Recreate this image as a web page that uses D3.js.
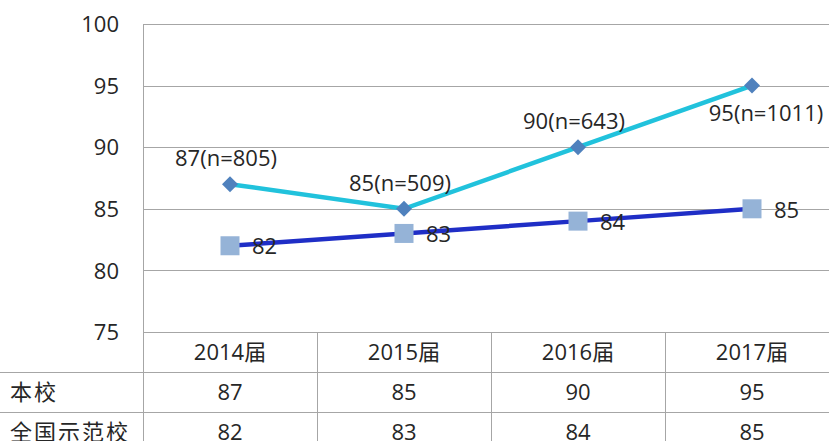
<!DOCTYPE html>
<html><head><meta charset="utf-8">
<script src="https://cdn.jsdelivr.net/npm/d3@7"></script>
<style>
html,body{margin:0;padding:0;background:#fff;}
svg{display:block;}
text{font-family:"Open Sans","Noto Sans CJK SC",sans-serif;fill:#262626;}
</style></head>
<body><svg id="c" width="829" height="441"></svg>
<script>
const categories = ["2014届","2015届","2016届","2017届"];
const seriesNames = ["本校","全国示范校"];
const schoolValues = [87,85,90,95];
const schoolN = [805,509,643,1011];
const nationalValues = [82,83,84,85];
const yTicks = [75,80,85,90,95,100];

(function(){
const W = 829, H = 441;
const pLeft = 143, pTop = 24, pBottom = 332, colW = 174;
const rowH = 40;
const svg = d3.select("#c");
const grid = "#A6A6A6";
const fs = 22;

const x = d3.scaleBand().domain(categories).range([pLeft, pLeft + colW*categories.length]).padding(0);
const y = d3.scaleLinear().domain([75,100]).range([pBottom, pTop]);
const cx = d => x(d) + x.bandwidth()/2;

svg.append("g").selectAll("line").data(yTicks).join("line")
  .attr("x1", pLeft).attr("x2", W).attr("y1", d=>Math.round(y(d))+0.5).attr("y2", d=>Math.round(y(d))+0.5)
  .attr("stroke", grid).attr("stroke-width",1);

const yAxis = d3.axisLeft(y).tickValues(yTicks).tickSize(0).tickPadding(0);
const ga = svg.append("g").attr("transform",`translate(${pLeft-24},0)`).call(yAxis);
ga.select(".domain").remove();
ga.selectAll("text").attr("font-size",fs).attr("font-family",'"Open Sans",sans-serif').attr("fill","#262626").attr("dy","0.35em");

const tb = svg.append("g").attr("stroke",grid).attr("stroke-width",1);
tb.append("line").attr("x1",pLeft+0.5).attr("x2",pLeft+0.5).attr("y1",pTop).attr("y2",H);
[1,2].forEach(i=>tb.append("line").attr("x1",0).attr("x2",W).attr("y1",pBottom+rowH*i+0.5).attr("y2",pBottom+rowH*i+0.5));
categories.slice(1).forEach(c=>tb.append("line").attr("x1",x(c)+0.5).attr("x2",x(c)+0.5).attr("y1",pBottom).attr("y2",H));

svg.append("g").selectAll("text").data(categories).join("text")
  .attr("x", d=>cx(d)).attr("y", pBottom+rowH/2).attr("dy","0.35em")
  .attr("text-anchor","middle").attr("font-size",fs).text(d=>d);

const rows = [schoolValues, nationalValues];
rows.forEach((vals,i)=>{
  const ry = pBottom + rowH*(i+1) + rowH/2;
  svg.append("text").attr("x",10).attr("y",ry).attr("dy","0.35em")
    .attr("font-size",fs).attr("letter-spacing",2).attr("font-family",'"Noto Sans CJK SC",sans-serif').text(seriesNames[i]);
  svg.append("g").selectAll("text").data(vals).join("text")
    .attr("x",(d,j)=>cx(categories[j])).attr("y",ry).attr("dy","0.35em")
    .attr("text-anchor","middle").attr("font-size",fs).text(d=>d);
});

const line = d3.line().x((d,i)=>cx(categories[i])).y(d=>y(d));

svg.append("path").datum(nationalValues).attr("d",line).attr("fill","none")
  .attr("stroke","#1F2EC6").attr("stroke-width",4.5);
svg.append("path").datum(schoolValues).attr("d",line).attr("fill","none")
  .attr("stroke","#21C2DC").attr("stroke-width",4.5);

svg.append("g").selectAll("rect").data(nationalValues).join("rect")
  .attr("x",(d,i)=>cx(categories[i])-9.5).attr("y",d=>y(d)-9.5)
  .attr("width",19).attr("height",19).attr("fill","#95B3D7");
svg.append("g").selectAll("path").data(schoolValues).join("path")
  .attr("d", d3.symbol().type(d3.symbolSquare).size(128))
  .attr("transform",(d,i)=>`translate(${cx(categories[i])},${y(d)}) rotate(45)`)
  .attr("fill","#4F81BD");

const last = schoolValues.length-1;
svg.append("g").selectAll("text").data(schoolValues).join("text")
  .attr("x",(d,i)=> cx(categories[i]) + (i===last?14:-4))
  .attr("y",(d,i)=> y(d) + (i===last?28:-26)).attr("dy","0.35em")
  .attr("text-anchor","middle").attr("font-size",fs)
  .text((d,i)=>`${d}(n=${schoolN[i]})`);
svg.append("g").selectAll("text").data(nationalValues).join("text")
  .attr("x",(d,i)=> cx(categories[i]) + 22)
  .attr("y",d=> y(d) + 1).attr("dy","0.35em")
  .attr("text-anchor","start").attr("font-size",fs)
  .text(d=>d);
})();
</script></body></html>
